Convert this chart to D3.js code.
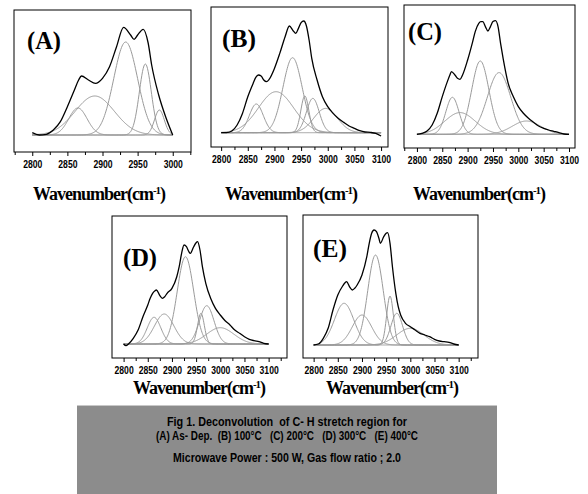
<!DOCTYPE html>
<meta charset="utf-8">
<script src="https://d3js.org/d3.v7.min.js"></script>
<style>
  body { margin: 0; background: #fff; }
  .tick text { font-family: "Liberation Sans", Arial, sans-serif; font-weight: bold; font-size: 10.5px; }
</style>
<div id="my_dataviz"></div>
<script>

// panel letters
var panelNames = ["(A)", "(B)", "(C)", "(D)", "(E)"];

// measured spectra (black curves): wavenumber / intensity (a.u.)
var specA_w = [2800,2810,2820,2830,2840,2850,2860,2866,2870,2880,2890,2900,2910,2920,2930,2940,2945,2950,2958,2965,2970,2980,2990,3000];
var specA_i = [0.023,0,0.007,0.05,0.133,0.283,0.45,0.55,0.59,0.55,0.517,0.567,0.683,0.883,1.077,1.0,0.957,1.0,1.057,0.92,0.70,0.40,0.18,0];

var specB_w = [2800,2810,2820,2830,2840,2850,2860,2865,2870,2875,2880,2885,2890,2900,2910,2920,2928,2935,2940,2945,2950,2955,2960,2965,2970,2980,2990,3000,3010,3020,3030,3040,3050,3060,3070,3080,3090,3100];
var specB_i = [0,0,0.017,0.077,0.193,0.36,0.493,0.553,0.577,0.567,0.527,0.51,0.533,0.643,0.793,0.96,1.067,1.02,0.993,1.043,1.10,1.117,1.067,0.927,0.743,0.527,0.36,0.26,0.193,0.143,0.103,0.067,0.043,0.02,0.007,0.003,-0.007,-0.033];

var specC_w = [2800,2810,2820,2830,2840,2850,2860,2865,2868,2875,2880,2885,2890,2900,2910,2915,2922,2926,2930,2935,2940,2945,2950,2955,2960,2965,2970,2980,2990,3000,3010,3020,3030,3040,3050,3060,3070,3080,3090,3100];
var specC_i = [0,0.01,0.033,0.093,0.21,0.377,0.527,0.593,0.627,0.593,0.56,0.55,0.593,0.743,0.927,1.027,1.11,1.127,1.127,1.077,1.033,1.077,1.127,1.137,1.077,0.91,0.76,0.51,0.377,0.277,0.21,0.16,0.12,0.083,0.06,0.043,0.03,0.017,0.003,0];

var specD_w = [2800,2805,2810,2820,2830,2840,2850,2855,2860,2865,2868,2875,2880,2885,2890,2900,2910,2915,2920,2925,2930,2935,2938,2945,2950,2953,2958,2963,2970,2980,2990,3000,3010,3020,3030,3040,3050,3060,3070,3080,3090,3100];
var specD_i = [0,-0.017,0,0.057,0.14,0.273,0.39,0.457,0.507,0.533,0.54,0.483,0.457,0.473,0.507,0.557,0.673,0.773,0.907,0.99,0.973,0.923,0.907,0.973,1.013,1.023,0.94,0.773,0.607,0.457,0.357,0.29,0.233,0.19,0.14,0.107,0.073,0.047,0.033,0.023,0.007,0];

var specE_w = [2800,2810,2820,2830,2840,2850,2860,2865,2868,2875,2880,2885,2890,2900,2910,2915,2920,2925,2930,2935,2938,2945,2950,2953,2958,2963,2970,2975,2980,2990,3000,3010,3020,3030,3040,3050,3060,3070,3080,3090,3100];
var specE_i = [0,0.01,0.067,0.167,0.35,0.5,0.59,0.623,0.633,0.577,0.55,0.567,0.6,0.7,0.883,1.017,1.117,1.15,1.133,1.067,1.017,1.083,1.117,1.123,1.017,0.783,0.517,0.383,0.3,0.217,0.183,0.15,0.117,0.1,0.083,0.057,0.04,0.033,0.027,0.01,0];

// fitted gaussian components (grey curves): [centre, height, width]
var peaksA = [[2865,0.27,13],[2889,0.39,28],[2933,0.93,17],[2961,0.71,8.5],[2981,0.25,7]];
var peaksB = [[2866,0.287,13],[2903,0.41,33],[2934,0.75,18],[2957,0.367,7.5],[2972,0.343,12],[2996,0.243,22]];
var peaksC = [[2870,0.37,13],[2885,0.217,30],[2925,0.733,17],[2962,0.617,23],[3016,0.133,28]];
var peaksD = [[2863,0.267,14],[2884,0.30,20],[2928,0.873,17],[2960,0.307,7],[2972,0.383,15],[3000,0.163,28]];
var peaksE = [[2863,0.417,20],[2900,0.30,20],[2928,0.90,16],[2958,0.49,7],[2972,0.317,12],[3000,0.167,28]];

// tick labels
var ticksA = [2800,2850,2900,2950,3000];
var ticksB = [2800,2850,2900,2950,3000,3050,3100];

var axisTitle = "Wavenumber(cm";
var captionLines = [
  "Fig 1. Deconvolution  of C- H stretch region for",
  "(A) As- Dep.  (B) 100\u00B0C   (C) 200\u00B0C   (D) 300\u00B0C   (E) 400\u00B0C",
  "Microwave Power : 500 W, Gas flow ratio ; 2.0"
];

var svg = d3.select("#my_dataviz")
  .append("svg")
    .attr("width", 588)
    .attr("height", 494);

// frame boxes and axis ranges for each panel
var panels = [
  {name: panelNames[0], w: specA_w, i: specA_i, peaks: peaksA, labels: ticksA,
   box: [14, 10, 177, 142], xd: [2774, 3026], yd: [-0.17, 1.25], fit: [2800, 3000],
   tag: [27, 49], title: [99, 200]},
  {name: panelNames[1], w: specB_w, i: specB_i, peaks: peaksB, labels: ticksB,
   box: [211, 7, 177, 140], xd: [2781, 3113], yd: [-0.143, 1.257], fit: [2800, 3100],
   tag: [222, 47], title: [291, 200]},
  {name: panelNames[2], w: specC_w, i: specC_i, peaks: peaksC, labels: ticksB,
   box: [404, 5, 171, 143], xd: [2774.5, 3111.8], yd: [-0.137, 1.293], fit: [2800, 3100],
   tag: [408, 40], title: [479, 200]},
  {name: panelNames[3], w: specD_w, i: specD_i, peaks: peaksD, labels: ticksB,
   box: [112, 216, 175, 142], xd: [2776, 3138], yd: [-0.14, 1.28], fit: [2800, 3100],
   tag: [123, 266], title: [199, 394]},
  {name: panelNames[4], w: specE_w, i: specE_i, peaks: peaksE, labels: ticksB,
   box: [303, 215, 175, 143], xd: [2778, 3140], yd: [-0.13, 1.30], fit: [2800, 3100],
   tag: [313, 257], title: [392, 394]}
];

panels.forEach(function(p) {
  var b = p.box;
  var x = d3.scaleLinear().domain(p.xd).range([b[0], b[0] + b[2]]);
  var y = d3.scaleLinear().domain(p.yd).range([b[1] + b[3], b[1]]);
  var g = svg.append("g");

  // grey components
  var grid = d3.range(p.fit[0], p.fit[1] + 0.5, 1);
  var gLine = d3.line().x(function(d) { return x(d[0]); }).y(function(d) { return y(d[1]); });
  p.peaks.forEach(function(pk) {
    var pts = grid.map(function(w) {
      return [w, pk[1] * Math.exp(-(w - pk[0]) * (w - pk[0]) / (2 * pk[2] * pk[2]))];
    });
    g.append("path")
      .attr("d", gLine(pts))
      .attr("fill", "none")
      .attr("stroke", "#9a9a9a")
      .attr("stroke-width", 1);
  });

  // measured spectrum
  var bLine = d3.line()
    .x(function(d, k) { return x(p.w[k]); })
    .y(function(d) { return y(d); })
    .curve(d3.curveMonotoneX);
  g.append("path")
    .attr("d", bLine(p.i))
    .attr("fill", "none")
    .attr("stroke", "#000")
    .attr("stroke-width", 1.3);

  // frame
  g.append("rect")
    .attr("x", b[0]).attr("y", b[1]).attr("width", b[2]).attr("height", b[3])
    .attr("fill", "none").attr("stroke", "#000").attr("stroke-width", 1);

  // ticks every 25, labels every 50
  var all = d3.range(Math.ceil(p.xd[0] / 25) * 25, p.xd[1], 25);
  var minor = all.filter(function(v) { return p.labels.indexOf(v) < 0; });
  g.append("g")
    .attr("transform", "translate(0," + (b[1] + b[3]) + ")")
    .call(d3.axisBottom(x).tickValues(minor).tickSize(3).tickFormat(""))
    .call(function(a) { a.select(".domain").remove(); });
  g.append("g")
    .attr("transform", "translate(0," + (b[1] + b[3]) + ")")
    .call(d3.axisBottom(x).tickValues(p.labels).tickSize(4).tickPadding(5).tickFormat(d3.format("d")))
    .call(function(a) {
      a.select(".domain").remove();
      a.selectAll(".tick text").attr("fill", "#000").attr("transform", "scale(0.82,1)");
    });

  // panel letter
  g.append("text")
    .attr("x", p.tag[0]).attr("y", p.tag[1])
    .attr("font-family", "'Liberation Serif', 'Times New Roman', serif")
    .attr("font-weight", "bold")
    .attr("font-size", 26)
    .attr("textLength", 34)
    .attr("lengthAdjust", "spacingAndGlyphs")
    .text(p.name);

  // axis title
  var t = g.append("text")
    .attr("x", p.title[0]).attr("y", p.title[1])
    .attr("text-anchor", "middle")
    .attr("font-family", "'Liberation Serif', 'Times New Roman', serif")
    .attr("font-weight", "bold")
    .attr("font-size", 18)
    .attr("letter-spacing", -1);
  t.append("tspan").text(axisTitle);
  t.append("tspan").attr("dy", -6).attr("font-size", 11).text("-1");
  t.append("tspan").attr("dy", 6).text(")");
});

// caption box
svg.append("rect")
  .attr("x", 77).attr("y", 405).attr("width", 420).attr("height", 89)
  .attr("fill", "#8c8c8c");
svg.append("line")
  .attr("x1", 77).attr("x2", 497).attr("y1", 405.5).attr("y2", 405.5)
  .attr("stroke", "#c8c8c8");

var capY = [426, 440, 462];
var capW = [240, 262, 228];
captionLines.forEach(function(s, k) {
  svg.append("text")
    .attr("x", 287).attr("y", capY[k])
    .attr("text-anchor", "middle")
    .attr("font-family", "'Liberation Sans', Arial, sans-serif")
    .attr("font-weight", "bold")
    .attr("font-size", 13)
    .attr("textLength", capW[k])
    .attr("lengthAdjust", "spacingAndGlyphs")
    .style("white-space", "pre")
    .text(s);
});

</script>
